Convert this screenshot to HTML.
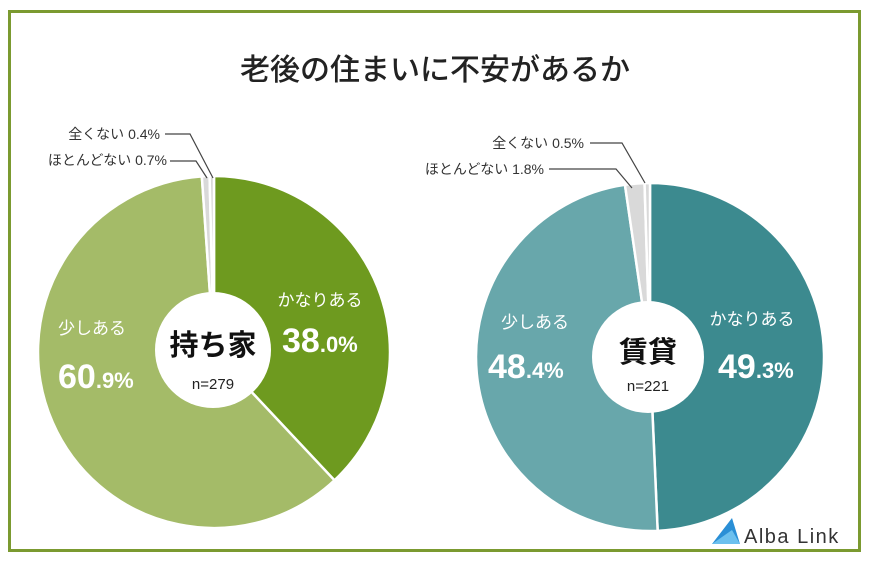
<!DOCTYPE html>
<html><head><meta charset="utf-8"><style>
body{margin:0;background:#fff;}
svg{display:block;font-family:"Liberation Sans","Noto Sans CJK JP",sans-serif;}
</style></head><body>
<svg id="s" width="870" height="566" viewBox="0 0 870 566">
<rect x="0" y="0" width="870" height="566" fill="#fff"/>
<rect x="9.5" y="11.5" width="850" height="539" fill="#fff" stroke="#7b9a30" stroke-width="3"/>
<text x="435" y="80" text-anchor="middle" font-size="30" font-weight="500" fill="#222">老後の住まいに不安があるか</text>
<g id="pies"></g>
<g font-size="14" fill="#333">
<text x="160" y="139" text-anchor="end">全くない 0.4%</text>
<text x="167" y="165" text-anchor="end">ほとんどない 0.7%</text>
<text x="584" y="148" text-anchor="end">全くない 0.5%</text>
<text x="544" y="174" text-anchor="end">ほとんどない 1.8%</text>
</g>
<g stroke="#444" stroke-width="1.2" fill="none">
<polyline points="165,134 190,134 213,178"/>
<polyline points="170,161 196,161 207,178"/>
<polyline points="590,143 622,143 645,183"/>
<polyline points="549,169 616,169 632,188"/>
</g>
<g fill="#fff" font-weight="bold">
<text x="320" y="306" text-anchor="middle" font-size="17" font-weight="normal">かなりある</text>
<text x="282" y="352" font-size="34">38<tspan font-size="22">.0%</tspan></text>
<text x="92" y="334" text-anchor="middle" font-size="17" font-weight="normal">少しある</text>
<text x="58" y="388" font-size="34">60<tspan font-size="22">.9%</tspan></text>
<text x="752" y="325" text-anchor="middle" font-size="17" font-weight="normal">かなりある</text>
<text x="718" y="378" font-size="34">49<tspan font-size="22">.3%</tspan></text>
<text x="535" y="328" text-anchor="middle" font-size="17" font-weight="normal">少しある</text>
<text x="488" y="378" font-size="34">48<tspan font-size="22">.4%</tspan></text>
</g>
<circle cx="213" cy="350" r="58" fill="#fff"/>
<circle cx="648" cy="357" r="56" fill="#fff"/>
<text x="213" y="355" text-anchor="middle" font-size="29" font-weight="bold" fill="#111">持ち家</text>
<text x="213" y="389" text-anchor="middle" font-size="15" fill="#222">n=279</text>
<text x="648" y="362" text-anchor="middle" font-size="29" font-weight="bold" fill="#111">賃貸</text>
<text x="648" y="391" text-anchor="middle" font-size="15" fill="#222">n=221</text>
<polygon points="712,544 732,518 740,544" fill="#2a8fd6"/>
<polygon points="712,544 732,530 740,544" fill="#6cc0ee"/>
<text x="744" y="543" font-size="20" fill="#333" letter-spacing="1.5">Alba Link</text>
</svg>
<script>
function pie(cx,cy,r,data){
 var g=document.getElementById('pies'),a=0,ns='http://www.w3.org/2000/svg';
 data.forEach(function(d){
  var a0=a*2*Math.PI/100,a1=(a+d[0])*2*Math.PI/100;a+=d[0];
  var x0=cx+r*Math.sin(a0),y0=cy-r*Math.cos(a0),x1=cx+r*Math.sin(a1),y1=cy-r*Math.cos(a1);
  var p=document.createElementNS(ns,'path');
  p.setAttribute('d','M'+cx+','+cy+'L'+x0+','+y0+'A'+r+','+r+' 0 '+(d[0]>50?1:0)+' 1 '+x1+','+y1+'Z');
  p.setAttribute('fill',d[1]);p.setAttribute('stroke','#fff');p.setAttribute('stroke-width','2.5');
  g.appendChild(p);
 });
}
pie(214,352,176,[[38.0,'#6e9a1f'],[60.9,'#a4bb68'],[0.7,'#d9d9d9'],[0.4,'#d9d9d9']]);
pie(650,357,174,[[49.3,'#3c8a8f'],[48.4,'#68a7ab'],[1.8,'#d9d9d9'],[0.5,'#d9d9d9']]);
</script>
</body></html>
